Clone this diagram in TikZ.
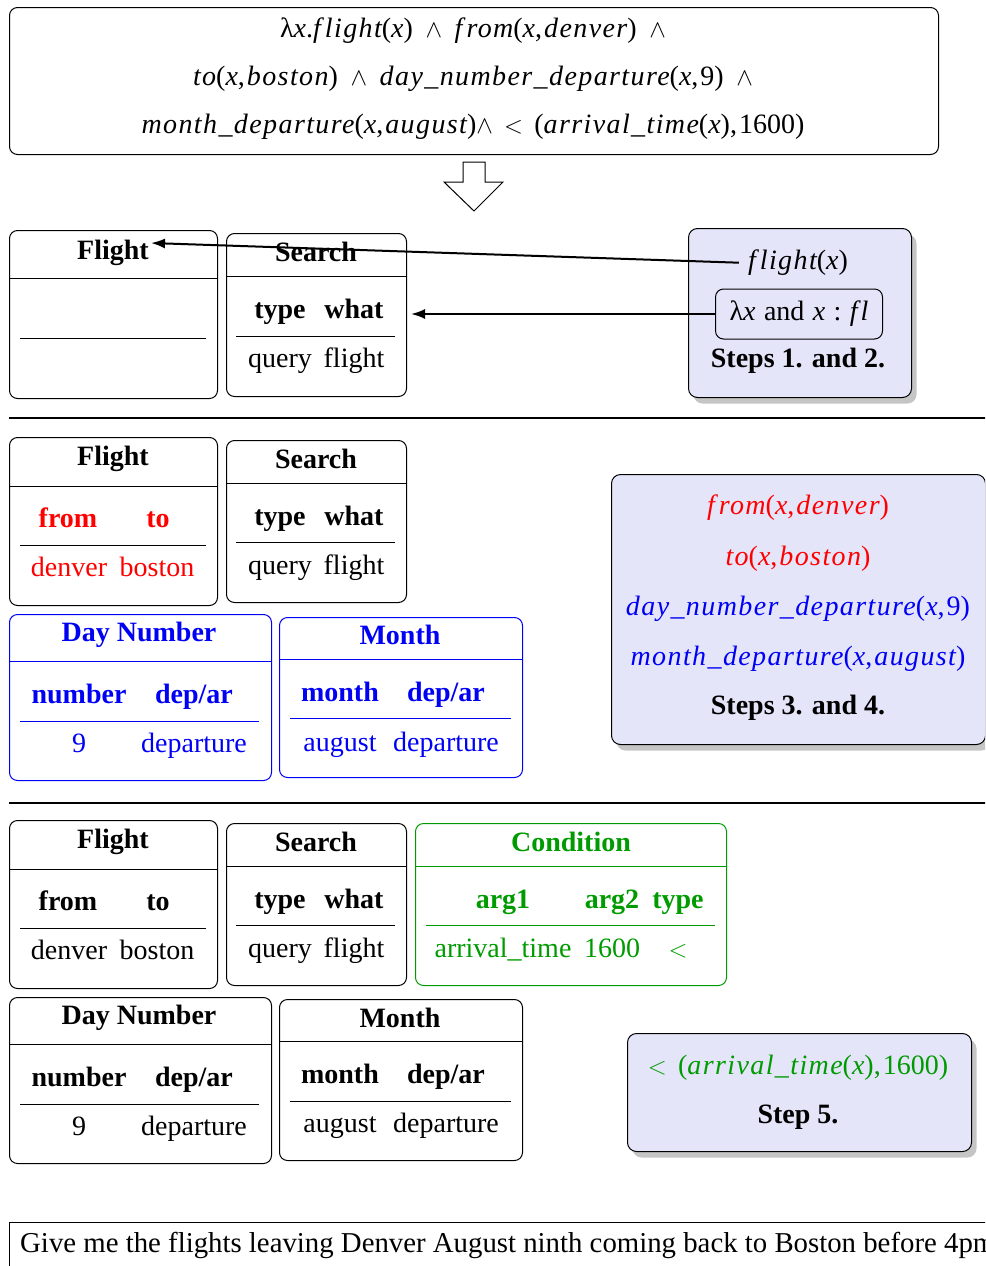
\documentclass[tikz,border=0pt]{standalone}
\usepackage{fontspec}
\setmainfont{Liberation Serif}
\newfontfamily\mathitfam{Liberation Serif}[LetterSpace=5]
\usetikzlibrary{shadows,arrows.meta,calc}
\newcommand{\mi}[1]{{\mathitfam\itshape #1}}
\newcommand{\ff}{f\kern4pt}
\newcommand{\AND}{\hspace{0.45em}$\wedge$\hspace{0.45em}}
\newcommand{\cm}{,\kern2pt}
\definecolor{lav}{RGB}{229,229,250}
\definecolor{grn}{RGB}{0,155,0}
\definecolor{myblue}{RGB}{0,0,245}
\newcommand{\tabbox}[7]{%
  \node[tbl, draw=#7, anchor=north west, minimum width={(#4-#2)*1pt}, minimum height={(#5-#3)*1pt}] (#1) at (#2,#3) {};
  \draw[#7, line width=1pt] (#2,#6) -- (#4,#6);
}
\begin{document}
\begin{tikzpicture}[x=1pt,y=-1pt,
  every node/.style={inner sep=0pt, font=\fontsize{28}{33}\selectfont},
  txt/.style={text height=19pt, text depth=6.5pt},
  bld/.style={txt, font=\fontsize{28}{33}\selectfont\bfseries},
  tbl/.style={rounded corners=8pt, line width=1pt},
  stepbox/.style={draw, line width=1pt, rounded corners=9pt, fill=lav, anchor=north west,
    drop shadow={shadow xshift=5pt, shadow yshift=-6pt, fill=black!45}},
  arr/.style={-{Latex[length=14pt,width=10pt]}, line width=2pt},
  rule/.style={line width=2.6pt}]
\useasboundingbox (0,0) rectangle (985,1266);
\clip (0,0) rectangle (985,1266);

% ---------- formula box ----------
\node[tbl, draw, anchor=north west, minimum width=929pt, minimum height=147pt] (formula) at (9,7) {};
\node[txt] (fl1) at (473,31) {λ\mi{x}.\mi{\ff light}(\mi{x})\AND\mi{\ff rom}(\mi{x}\cm\mi{denver})\AND};
\node[txt] (fl2) at (473,79) {\mi{to}(\mi{x}\cm\mi{boston})\AND\mi{day\_number\_departure}(\mi{x}\cm 9)\AND};
\node[txt] (fl3) at (473,127) {\mi{month\_departure}(\mi{x}\cm\mi{august})$\wedge$\hspace{0.4em}$<$\hspace{0.4em}(\mi{arrival\_time}(\mi{x})\cm 1600)};

% hollow arrow
\draw[line width=1pt, fill=white] (463,162) -- (485,162) -- (485,182) -- (503,182) -- (474,211) -- (444,182) -- (463,182) -- cycle;

% ---------- row 1 ----------
\tabbox{F1}{9}{230}{217}{398}{278}{black}
\node[bld] (F1t) at (113,253) {Flight};
\draw[line width=1pt] (20,338) -- (206,338);

\tabbox{S1}{226}{233}{406}{396}{276}{black}
\node[bld] (S1t) at (316,255) {Search};
\node[bld] (S1a) at (280,312) {type};
\node[bld] (S1b) at (354,312) {what};
\draw[line width=1pt] (236,336) -- (395,336);
\node[txt] (S1c) at (280,361) {query};
\node[txt] (S1d) at (354,361) {flight};

\node[stepbox, minimum width=223pt, minimum height=169pt] (ST1) at (688,228) {};
\node[txt] (fx) at (798,263) {\mi{\ff light}(\mi{x})};
\node[draw, line width=1pt, rounded corners=8pt, minimum width=167pt, minimum height=50pt, fill=lav] (lam) at (799,314) {λ\mi{x}\hspace{0.3em}and\hspace{0.3em}\mi{x}\hspace{0.3em}:\hspace{0.3em}\mi{f\kern3pt l}};
\node[bld] (st1t) at (798,361) {Steps 1. and 2.};

\draw[arr, shorten <=9pt] (fx.west) -- ($(F1t.east)+(2,-10)$);
\draw[arr] (lam.west) -- ($(lam.west -| S1.east)+(4,0)$);

\draw[rule] (9,418) -- (990,418);

% ---------- row 2 ----------
\tabbox{F2}{9}{437}{217}{605}{486}{black}
\node[bld] (F2t) at (113,459) {Flight};
\node[bld, red] (F2a) at (68,521) {from};
\node[bld, red] (F2b) at (158,521) {to};
\draw[line width=1pt] (20,545) -- (206,545);
\node[txt, red] (F2c) at (69,570) {denver};
\node[txt, red] (F2d) at (157,570) {boston};

\tabbox{S2}{226}{440}{406}{602}{483}{black}
\node[bld] (S2t) at (316,462) {Search};
\node[bld] (S2a) at (280,519) {type};
\node[bld] (S2b) at (354,519) {what};
\draw[line width=1pt] (236,542) -- (395,542);
\node[txt] (S2c) at (280,568) {query};
\node[txt] (S2d) at (354,568) {flight};

\tabbox{D2}{9}{614}{271}{780}{661}{myblue}
\node[bld, myblue] (D2t) at (139,635) {Day Number};
\node[bld, myblue] (D2a) at (79,697) {number};
\node[bld, myblue] (D2b) at (194,697) {dep/ar};
\draw[myblue, line width=1pt] (20,721) -- (259,721);
\node[txt, myblue] (D2c) at (79,746) {9};
\node[txt, myblue] (D2d) at (194,746) {departure};

\tabbox{M2}{279}{617}{522}{777}{659}{myblue}
\node[bld, myblue] (M2t) at (400,638) {Month};
\node[bld, myblue] (M2a) at (340,695) {month};
\node[bld, myblue] (M2b) at (446,695) {dep/ar};
\draw[myblue, line width=1pt] (290,718) -- (511,718);
\node[txt, myblue] (M2c) at (340,745) {august};
\node[txt, myblue] (M2d) at (446,745) {departure};

\node[stepbox, minimum width=374pt, minimum height=270pt] (ST2) at (611,474) {};
\node[txt, red] (e1) at (798,508) {\mi{\ff rom}(\mi{x}\cm\mi{denver})};
\node[txt, red] (e2) at (798,559) {\mi{to}(\mi{x}\cm\mi{boston})};
\node[txt, myblue] (e3) at (798,609) {\mi{day\_number\_departure}(\mi{x}\cm 9)};
\node[txt, myblue] (e4) at (798,659) {\mi{month\_departure}(\mi{x}\cm\mi{august})};
\node[bld] (st2t) at (798,708) {Steps 3. and 4.};

\draw[rule] (9,803) -- (990,803);

% ---------- row 3 ----------
\tabbox{F3}{9}{820}{217}{988}{869}{black}
\node[bld] (F3t) at (113,842) {Flight};
\node[bld] (F3a) at (68,904) {from};
\node[bld] (F3b) at (158,904) {to};
\draw[line width=1pt] (20,928) -- (206,928);
\node[txt] (F3c) at (69,953) {denver};
\node[txt] (F3d) at (157,953) {boston};

\tabbox{S3}{226}{823}{406}{985}{866}{black}
\node[bld] (S3t) at (316,845) {Search};
\node[bld] (S3a) at (280,902) {type};
\node[bld] (S3b) at (354,902) {what};
\draw[line width=1pt] (236,925) -- (395,925);
\node[txt] (S3c) at (280,951) {query};
\node[txt] (S3d) at (354,951) {flight};

\tabbox{C3}{415}{823}{726}{985}{866}{grn}
\node[bld, grn] (C3t) at (571,845) {Condition};
\node[bld, grn] (C3a) at (503,902) {arg1};
\node[bld, grn] (C3b) at (612,902) {arg2};
\node[bld, grn] (C3c) at (678,902) {type};
\draw[grn, line width=1pt] (426,925) -- (715,925);
\node[txt, grn] (C3d) at (503,951) {arrival\_time};
\node[txt, grn] (C3e) at (612,951) {1600};
\node[txt, grn] (C3f) at (678,951) {$<$};

\tabbox{D3}{9}{997}{271}{1163}{1044}{black}
\node[bld] (D3t) at (139,1018) {Day Number};
\node[bld] (D3a) at (79,1080) {number};
\node[bld] (D3b) at (194,1080) {dep/ar};
\draw[line width=1pt] (20,1104) -- (259,1104);
\node[txt] (D3c) at (79,1129) {9};
\node[txt] (D3d) at (194,1129) {departure};

\tabbox{M3}{279}{999}{522}{1160}{1041}{black}
\node[bld] (M3t) at (400,1021) {Month};
\node[bld] (M3a) at (340,1077) {month};
\node[bld] (M3b) at (446,1077) {dep/ar};
\draw[line width=1pt] (290,1101) -- (511,1101);
\node[txt] (M3c) at (340,1126) {august};
\node[txt] (M3d) at (446,1126) {departure};

\node[stepbox, minimum width=344pt, minimum height=118pt] (ST3) at (627,1033) {};
\node[txt, grn] (e5) at (798,1068) {$<$\hspace{0.4em}(\mi{arrival\_time}(\mi{x})\cm 1600)};
\node[bld] (st3t) at (798,1117) {Step 5.};

% ---------- query box ----------
\node[draw, line width=1pt, anchor=north west, minimum width=1200pt, minimum height=100pt] (qbox) at (9,1222) {};
\node[txt, anchor=west, font=\fontsize{28.8}{33}\selectfont] (qtext) at (20,1246) {Give me the flights leaving Denver August ninth coming back to Boston before 4pm};
\end{tikzpicture}
\end{document}
